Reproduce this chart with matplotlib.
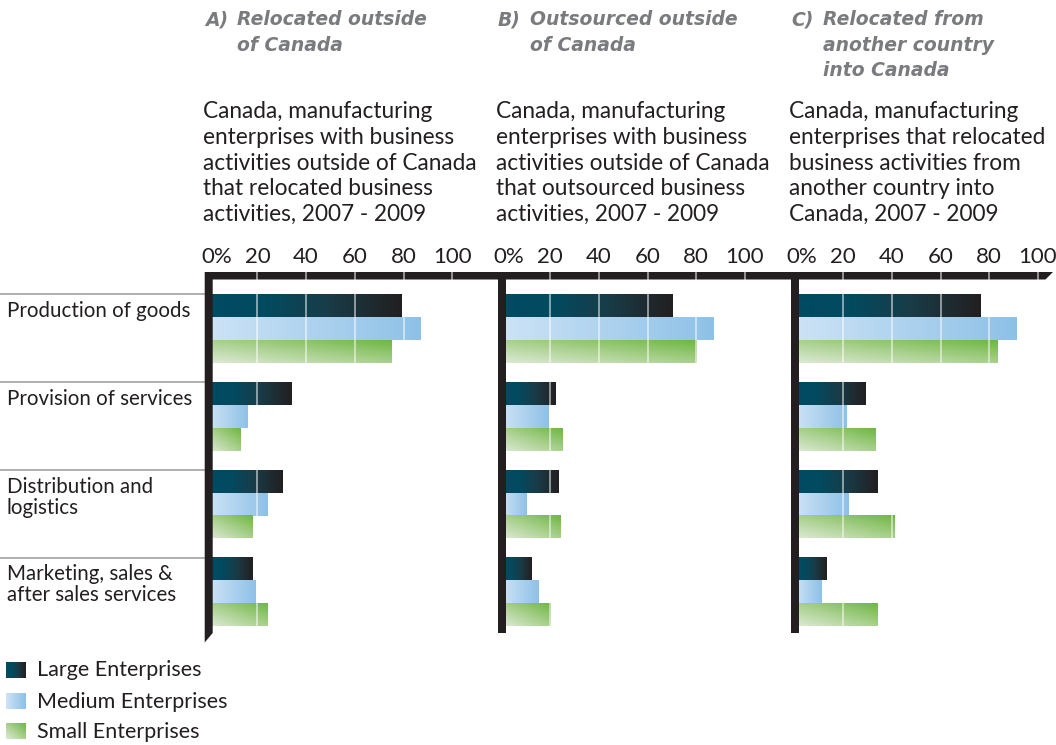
import numpy as np
import matplotlib
matplotlib.use("Agg")
import matplotlib.pyplot as plt
from matplotlib.colors import LinearSegmentedColormap
from matplotlib.patches import Polygon
from matplotlib.transforms import Affine2D, blended_transform_factory

plt.rcParams["font.family"] = ["Lato", "DejaVu Sans"]

# --- data -------------------------------------------------------------------
categories = ["Production of goods", "Provision of services",
              "Distribution and\nlogistics", "Marketing, sales &\nafter sales services"]
series = ["Large Enterprises", "Medium Enterprises", "Small Enterprises"]
tick_values = [0, 20, 40, 60, 80, 100]
tick_labels = ["0%", "20", "40", "60", "80", "100"]

large_a = [79, 34, 30, 18]
medium_a = [87, 16, 24, 19]
small_a = [75, 13, 18, 24]

large_b = [70, 22, 23, 12]
medium_b = [87, 19, 10, 15]
small_b = [80, 25, 24, 20]

large_c = [76, 29, 34, 13]
medium_c = [91, 21, 22, 11]
small_c = [83, 33, 41, 34]

panel_titles = [("A)", "Relocated outside\nof Canada"),
                ("B)", "Outsourced outside\nof Canada"),
                ("C)", "Relocated from\nanother country\ninto Canada")]
panel_notes = [
    "Canada, manufacturing\nenterprises with business\nactivities outside of Canada\n"
    "that relocated business\nactivities, 2007 - 2009",
    "Canada, manufacturing\nenterprises with business\nactivities outside of Canada\n"
    "that outsourced business\nactivities, 2007 - 2009",
    "Canada, manufacturing\nenterprises that relocated\nbusiness activities from\n"
    "another country into\nCanada, 2007 - 2009",
]
panel_data = [(large_a, medium_a, small_a),
              (large_b, medium_b, small_b),
              (large_c, medium_c, small_c)]

# --- figure in pixel units --------------------------------------------------
W, H = 1056, 745
fig = plt.figure(figsize=(W / 100, H / 100), dpi=100)
pix = Affine2D().scale(1 / W, -1 / H).translate(0, 1) + fig.transFigure

TEXT = "#231f20"
GREY_TITLE = "#7a7b7e"

cmaps = {
    "large": LinearSegmentedColormap.from_list(
        "large", [(0, "#004b63"), (0.3, "#034a5f"), (0.62, "#193c48"), (1, "#231f20")]),
    "medium": LinearSegmentedColormap.from_list("medium", ["#cde3f6", "#8ec1e7"]),
    "small": LinearSegmentedColormap.from_list(
        "small", [(0, "#dde9d5"), (0.5, "#a9d08d"), (1, "#6fb743")]),
}


def gradient(kind, n=128):
    u = np.linspace(0, 1, n)[None, :].repeat(32, axis=0)
    w = np.linspace(0, 1, 32)[:, None].repeat(n, axis=1)
    if kind == "small":
        t = (u + w) / 2
    else:
        t = u
    return cmaps[kind](t)


# background overlay: thick top axis bar, separators, legend
bg = fig.add_axes([0, 0, 1, 1], zorder=-1)
bg.patch.set_visible(False)
bg.axis("off")

bg.add_patch(Polygon([(205, 272), (1053, 272), (1045.5, 279.5), (205, 279.5)],
                     closed=True, color=TEXT, lw=0))

zeros = [208.7, 501.5, 794.5]
px_per = 2.435
top_px, bot_px = 284.6, 635.8
group_px = 87.8
BAR_H = 0.26

# legend
legend_rows = [670, 701, 731]
for kind, name, yc in zip(["large", "medium", "small"], series, legend_rows):
    bg.imshow(gradient(kind, 32), extent=[6, 25.5, yc + 8, yc - 8], origin="lower",
              aspect="auto", interpolation="bilinear")
    bg.text(37, yc + 6.5, name, fontsize=15.5, color=TEXT, va="baseline", ha="left")

# category labels and separators
for k, cat in enumerate(categories):
    y_top = top_px + group_px * (k + 0.5 - 1.5 * BAR_H)
    bg.plot([0, 205], [y_top, y_top], color="#9a9a9a", lw=1.1)
    for m, line in enumerate(cat.split("\n")):
        bg.text(7, y_top + 22.7 + 21 * m, line, fontsize=14.8, color=TEXT,
                va="baseline", ha="left")

bg.set_xlim(0, W)
bg.set_ylim(H, 0)

# --- panels -------------------------------------------------------------------
for i, (z, (large, medium, small)) in enumerate(zip(zeros, panel_data)):
    ax = fig.add_axes([z / W, 1 - bot_px / H, 100 * px_per / W, (bot_px - top_px) / H])
    ax.patch.set_visible(False)
    ax.axis("off")

    for k in range(len(categories)):
        for j, (vals, kind) in enumerate([(large, "large"), (medium, "medium"), (small, "small")]):
            yc = k + (j - 1) * BAR_H
            ax.imshow(gradient(kind), extent=[0, vals[k], yc + BAR_H / 2, yc - BAR_H / 2],
                      origin="lower", aspect="auto", interpolation="bilinear", zorder=2)

    y_bar = -0.5 - (top_px - 272) / group_px
    ax.vlines(tick_values[1:], y_bar, 3.5, colors="white", lw=1.1, alpha=0.65,
              zorder=3, clip_on=False)

    ax.set_xlim(0, 100)
    ax.set_ylim(3.5, -0.5)

    # tick labels above the top bar
    tr = blended_transform_factory(ax.transData, pix)
    for v, lab in zip(tick_values, tick_labels):
        if v == 0:
            ax.text(-3.2, 263, lab, transform=tr, ha="left", va="baseline",
                    fontsize=16, color=TEXT)
        else:
            ax.text(v, 263, lab, transform=tr, ha="center", va="baseline",
                    fontsize=16, color=TEXT)

    # panel heading
    x0 = z - 3.5
    letter, title = panel_titles[i]
    fig.text(x0, 25, letter, transform=pix, fontsize=13.5, fontweight="bold",
             style="italic", family="DejaVu Sans", color=GREY_TITLE,
             va="baseline", ha="left")
    for m, line in enumerate(title.split("\n")):
        fig.text(x0 + 32, 25 + 25.7 * m, line, transform=pix, fontsize=13.5,
                 fontweight="bold", style="italic", family="DejaVu Sans",
                 color=GREY_TITLE, va="baseline", ha="left")
    for m, line in enumerate(panel_notes[i].split("\n")):
        fig.text(x0 - 2, 118 + 25.8 * m, line, transform=pix, fontsize=16.3,
                 color=TEXT, va="baseline", ha="left")

    # vertical axis line at zero
    if i == 0:
        pts = [(z - 4, 272), (z + 4, 272), (z + 4, 633), (z - 4, 642.5)]
    else:
        pts = [(z - 4, 272), (z + 4, 272), (z + 4, 633), (z - 4, 633)]
    fig.add_artist(Polygon(pts, closed=True, color=TEXT, lw=0,
                           transform=pix, zorder=5))

fig.savefig("out.png", dpi=100)
